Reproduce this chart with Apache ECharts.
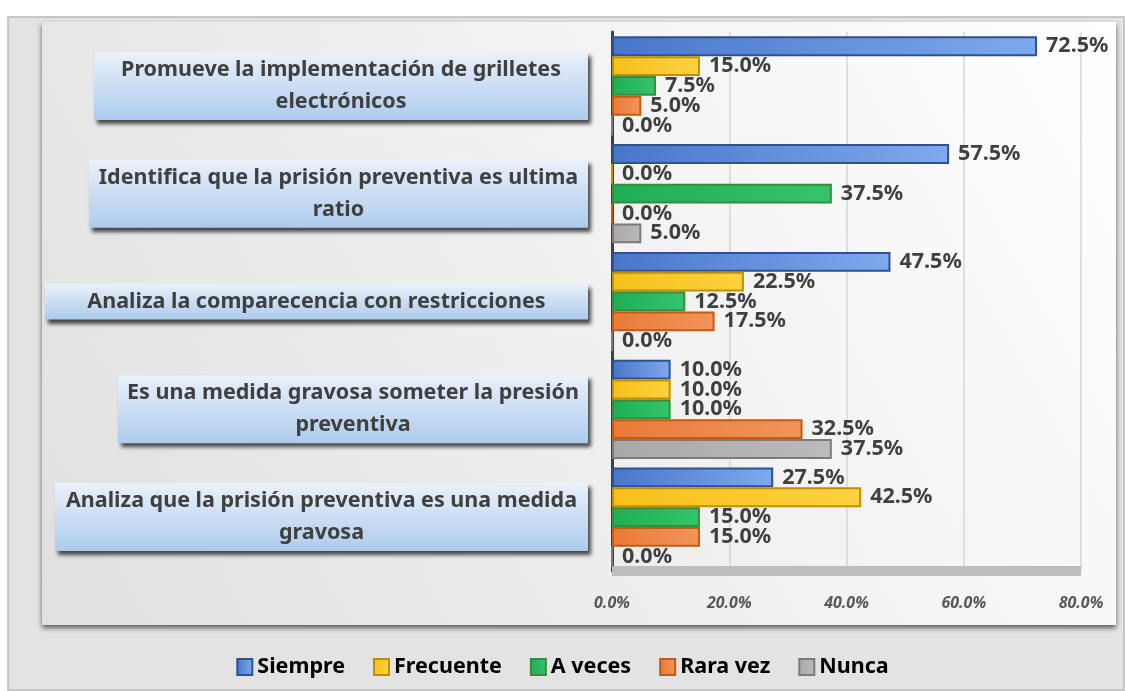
<!DOCTYPE html>
<html>
<head>
<meta charset="utf-8">
<script src="https://cdn.jsdelivr.net/npm/echarts@6/dist/echarts.min.js"></script>
<style>
  html, body { margin: 0; padding: 0; background: #ffffff; }
  #chart { width: 1125px; height: 691px; }
</style>
</head>
<body>
<div id="chart"></div>
<script>
// preguntas (eje vertical, de arriba hacia abajo)
var categories = [
	'Promueve la implementación de grilletes\nelectrónicos',
	'Identifica que la prisión preventiva es ultima\nratio',
	'Analiza la comparecencia con restricciones',
	'Es una medida gravosa someter la presión\npreventiva',
	'Analiza que la prisión preventiva es una medida\ngravosa'
];
var seriesNames = ['Siempre', 'Frecuente', 'A veces', 'Rara vez', 'Nunca'];
// porcentajes por pregunta
var siempre   = [72.5, 57.5, 47.5, 10.0, 27.5];
var frecuente = [15.0,  0.0, 22.5, 10.0, 42.5];
var aveces    = [ 7.5, 37.5, 12.5, 10.0, 15.0];
var raravez   = [ 5.0,  0.0, 17.5, 32.5, 15.0];
var nunca     = [ 0.0,  5.0,  0.0, 37.5,  0.0];
var xTicks = [0, 20, 40, 60, 80];

var seriesData = [siempre, frecuente, aveces, raravez, nunca];
// colores: [izquierda, derecha, borde]
var colors = [
	['#4876c9', '#7fa9ee', '#2f528f'],
	['#f6c01c', '#fdd23e', '#bf9000'],
	['#1fae55', '#35c46c', '#3b8a3f'],
	['#ea7a37', '#f2945a', '#c55a11'],
	['#a9a7a7', '#bcbaba', '#7b7b7b']
];
// ancho de cada recuadro de pregunta
var boxWidths = [490, 495, 539, 466, 529];

var chart = echarts.init(document.getElementById('chart'));

var rich = {};
for (var i = 0; i < categories.length; i++) {
	rich['c' + i] = {
		width: boxWidths[i],
		align: 'center',
		lineHeight: 32,
		fontSize: 21.5,
		fontWeight: 'bold',
		fontFamily: 'Noto Sans',
		color: '#404040'
	};
}

var series = [];
for (var s = 0; s < seriesNames.length; s++) {
	series.push({
		name: seriesNames[s],
		type: 'bar',
		barGap: '0%',
		barCategoryGap: '8%',
		data: seriesData[s],
		itemStyle: {
			color: new echarts.graphic.LinearGradient(0, 0, 1, 0, [
				{ offset: 0, color: colors[s][0] },
				{ offset: 1, color: colors[s][1] }
			]),
			borderColor: colors[s][2],
			borderWidth: 2
		},
		label: {
			show: true,
			position: 'right',
			distance: 9,
			color: '#404040',
			fontSize: 21.5,
			fontWeight: 'bold',
			fontFamily: 'Noto Sans',
			formatter: function (p) { return p.value.toFixed(1) + '%'; }
		}
	});
}

var option = {
	animation: false,
	backgroundColor: '#ffffff',
	graphic: [
		{
			type: 'rect', z: -10, silent: true,
			shape: { x: 8, y: 17, width: 1116, height: 673 },
			style: { fill: '#e3e3e3', stroke: '#b9b9b9', lineWidth: 1.5 }
		},
		{
			type: 'rect', z: -9, silent: true,
			shape: { x: 42, y: 22, width: 1074, height: 603 },
			style: {
				fill: new echarts.graphic.LinearGradient(0, 1, 1, 0, [
					{ offset: 0, color: '#e0e0e0' },
					{ offset: 0.6, color: '#f3f3f3' },
					{ offset: 1, color: '#ffffff' }
				]),
				shadowColor: 'rgba(0,0,0,0.6)',
				shadowBlur: 5,
				shadowOffsetY: 3
			}
		}
	],
	legend: {
		bottom: 8,
		left: 'center',
		icon: 'rect',
		itemWidth: 15,
		itemHeight: 16,
		itemGap: 28,
		textStyle: { fontSize: 21.5, fontWeight: 'bold', fontFamily: 'Noto Sans', color: '#000000' },
		data: seriesNames
	},
	grid: { left: 612, right: 44, top: 32, bottom: 120 },
	xAxis: {
		type: 'value',
		min: xTicks[0],
		max: xTicks[xTicks.length - 1],
		interval: 20,
		axisLine: { show: true, lineStyle: { color: '#bdbdbd', width: 10, cap: 'butt' } },
		axisTick: { show: false },
		axisLabel: {
			margin: 24,
			fontSize: 16,
			fontStyle: 'italic',
			fontWeight: 'bold',
			fontFamily: 'Noto Sans',
			color: '#595959',
			formatter: function (v) { return v.toFixed(1) + '%'; }
		},
		splitLine: { lineStyle: { color: '#d6d6d6', width: 1.5 } }
	},
	yAxis: {
		type: 'category',
		inverse: true,
		data: categories,
		axisLine: { show: true, lineStyle: { color: '#404040', width: 3 } },
		axisTick: { show: false },
		axisLabel: {
			margin: 24,
			padding: [2, 2, 2, 2],
			backgroundColor: new echarts.graphic.LinearGradient(0, 0, 0, 1, [
				{ offset: 0, color: '#eaf1fa' },
				{ offset: 1, color: '#adcbed' }
			]),
			shadowColor: 'rgba(0,0,0,0.7)',
			shadowBlur: 4,
			shadowOffsetX: 3,
			shadowOffsetY: 4,
			formatter: function (value, index) {
				return value.split('\n').map(function (l) {
					return '{c' + index + '|' + l + '}';
				}).join('\n');
			},
			rich: rich
		}
	},
	series: series
};
chart.setOption(option);
</script>
</body>
</html>
